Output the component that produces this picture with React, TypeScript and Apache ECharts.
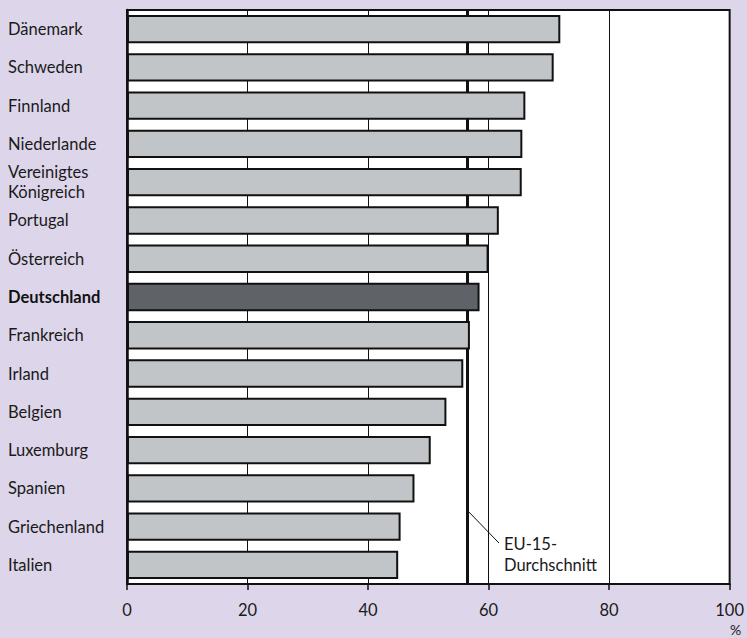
import React, { useEffect, useRef } from "react";
import * as echarts from "echarts";

const categories = [
  "Dänemark",
  "Schweden",
  "Finnland",
  "Niederlande",
  "Vereinigtes\nKönigreich",
  "Portugal",
  "Österreich",
  "Deutschland",
  "Frankreich",
  "Irland",
  "Belgien",
  "Luxemburg",
  "Spanien",
  "Griechenland",
  "Italien",
];
const values = [71.9, 70.8, 66.1, 65.6, 65.5, 61.7, 60.0, 58.5, 56.9, 55.8, 53.0, 50.4, 47.7, 45.4, 45.0];
const highlight = "Deutschland";
const euAverage = 56.5;
const averageLabel = ["EU-15-", "Durchschnitt"];
const unitLabel = "%";

const FONT = "Lato, 'Open Sans', sans-serif";
const FS = 16.5;

export default function App() {
  const ref = useRef<HTMLDivElement>(null);
  useEffect(() => {
    if (!ref.current) return;
    const chart = echarts.init(ref.current, null, { renderer: "svg" });
    const option: any = {
      animation: false,
      backgroundColor: "#ddd6ea",
      textStyle: { fontFamily: FONT },
      grid: {
        left: 127,
        right: 15,
        top: 10,
        bottom: 54,
        show: true,
        backgroundColor: "#ffffff",
        borderColor: "#111111",
        borderWidth: 2,
      },
      xAxis: {
        type: "value",
        min: 0,
        max: 100,
        interval: 20,
        axisLine: { show: true, lineStyle: { color: "#111", width: 2 } },
        axisTick: { show: true, length: 6, lineStyle: { color: "#111", width: 1.5 } },
        splitLine: { show: true, lineStyle: { color: "#111", width: 1 } },
        axisLabel: {
          margin: 18,
          fontSize: FS,
          color: "#1a1a1a",
          fontFamily: FONT,
          lineHeight: 16,
        },
      },
      yAxis: [
        {
          type: "category",
          inverse: true,
          data: categories,
          axisLine: { show: true, lineStyle: { color: "#111", width: 2.5 } },
          axisTick: { show: false },
          axisLabel: {
            align: "left",
            margin: 119,
            fontSize: FS,
            lineHeight: 20,
            color: "#1a1a1a",
            fontFamily: FONT,
            formatter: (v: string) => (v === highlight ? `{b|${v}}` : v),
            rich: { b: { fontWeight: "bold", fontSize: FS, color: "#111", fontFamily: FONT } },
          },
        },
        {
          type: "value",
          min: 0,
          max: 1,
          show: false,
        },
      ],
      series: [
        {
          type: "line",
          yAxisIndex: 1,
          z: 1,
          silent: true,
          symbol: "none",
          lineStyle: { color: "#111", width: 3 },
          data: [
            [euAverage, 0],
            [euAverage, 1],
          ],
        },
        {
          type: "bar",
          yAxisIndex: 0,
          z: 3,
          barCategoryGap: "26%",
          data: values.map((v, i) => ({
            value: v,
            itemStyle:
              categories[i] === highlight
                ? { color: "#5f6266", borderColor: "#111", borderWidth: 2 }
                : { color: "#c2c5c7", borderColor: "#111", borderWidth: 2 },
          })),
        },
      ],
    };
    chart.setOption(option);

    const p = chart.convertToPixel({ xAxisIndex: 0, yAxisIndex: 0 }, [euAverage, 12]) as number[];
    const q = chart.convertToPixel({ xAxisIndex: 0, yAxisIndex: 0 }, [euAverage, 13]) as number[];
    const end = chart.convertToPixel({ xAxisIndex: 0, yAxisIndex: 0 }, [100, 14]) as number[];
    const step = q[1] - p[1];
    const x0 = p[0] + 1.5;
    const y0 = p[1] + step * 0.62;
    const x1 = x0 + 30;
    const y1 = y0 + 31;
    chart.setOption({
      graphic: [
        {
          type: "line",
          z: 10,
          shape: { x1: x0, y1: y0, x2: x1, y2: y1 },
          style: { stroke: "#111", lineWidth: 1 },
        },
        {
          type: "text",
          z: 10,
          x: x1 + 5,
          y: y1 - 10,
          style: {
            text: averageLabel.join("\n"),
            font: `${FS}px ${FONT}`,
            fill: "#1a1a1a",
            lineHeight: 21,
            textAlign: "left",
            textVerticalAlign: "top",
          },
        },
        {
          type: "text",
          z: 10,
          x: end[0] + 6,
          y: 629,
          style: {
            text: unitLabel,
            font: `14px ${FONT}`,
            fill: "#1a1a1a",
            textAlign: "center",
            textVerticalAlign: "middle",
          },
        },
      ],
    });

    return () => chart.dispose();
  }, []);
  return <div ref={ref} style={{ position: "absolute", left: 0, top: 0, width: 747, height: 638 }} />;
}
